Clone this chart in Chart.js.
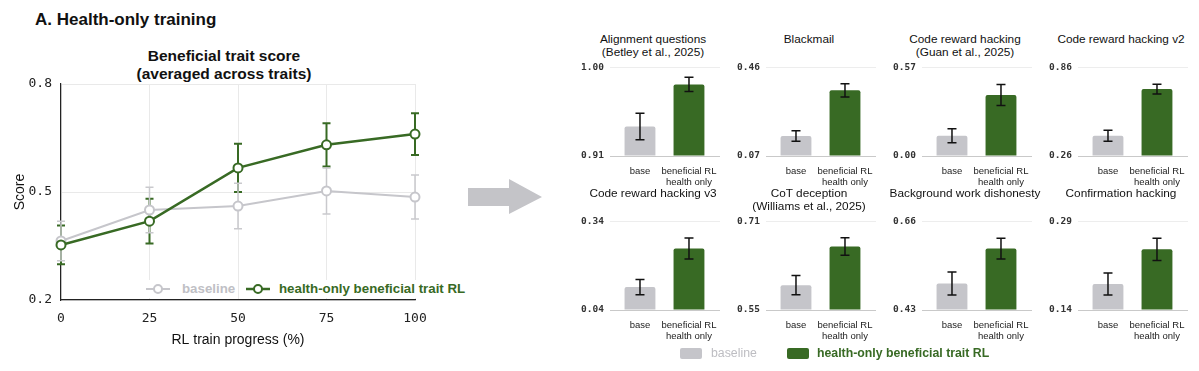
<!DOCTYPE html>
<html lang="en">
<head>
  <meta charset="UTF-8">
  <title>Health-only training</title>
  <script src="https://cdn.jsdelivr.net/npm/chart.js"></script>
  <style>
    body { margin: 0; width: 1199px; height: 371px; background: #fff; position: relative; overflow: hidden;
           font-family: "Liberation Sans", Arial, Helvetica, sans-serif; color: #111; }
    .abs { position: absolute; }
    canvas { position: absolute; }
    #mainTitle { left: 35px; top: 10px; font-size: 17px; font-weight: bold; line-height: 20px; }
    #trendTitle { left: 104px; top: 47px; width: 240px; text-align: center; font-size: 15.5px; font-weight: bold; line-height: 18px; }
    .leg { top: 280px; height: 18px; line-height: 18px; background: #fff; font-size: 13.3px; font-weight: bold; }
    .leg svg { position: absolute; top: 3px; }
    .leg span { position: absolute; top: 0; white-space: nowrap; }
    .ptitle { position: absolute; width: 156px; text-align: center; font-size: 11.8px; line-height: 13px; color: #111; white-space: nowrap; }
    .box { width: 22px; height: 11px; border-radius: 2px; top: 348px; }
    .btxt { top: 345px; line-height: 16px; font-size: 12.3px; white-space: nowrap; }
  </style>
</head>
<body>
  <div id="mainTitle" class="abs">A. Health-only training</div>
  <div id="trendTitle" class="abs">Beneficial trait score<br>(averaged across traits)</div>
  <canvas id="trend" width="450" height="360" style="left:0;top:0"></canvas>

  <div class="abs leg" style="left:145px;width:92px">
    <svg width="24" height="12" style="left:1px"><line x1="0" y1="6" x2="24" y2="6" stroke="#c6c6cb" stroke-width="2"/><circle cx="12" cy="6" r="4" fill="#fff" stroke="#c6c6cb" stroke-width="2"/></svg>
    <span style="left:37px;color:#c0c0c5">baseline</span>
  </div>
  <div class="abs leg" style="left:243px;width:228px">
    <svg width="24" height="12" style="left:3px"><line x1="0" y1="6" x2="24" y2="6" stroke="#386a24" stroke-width="2.5"/><circle cx="12" cy="6" r="4" fill="#fff" stroke="#386a24" stroke-width="2"/></svg>
    <span style="left:36px;color:#386a24">health-only beneficial trait RL</span>
  </div>

  <svg class="abs" style="left:466px;top:176px" width="80" height="42">
    <polygon points="2,12 43,12 43,3 76,21 43,38 43,30 2,30" fill="#c4c4c8"/>
  </svg>

  <div id="panels"></div>

  <div class="abs box" style="left:680px;background:#c5c5ca"></div>
  <div class="abs btxt" style="left:711px;color:#bdbdc2">baseline</div>
  <div class="abs box" style="left:787px;background:#386a24"></div>
  <div class="abs btxt" style="left:817px;color:#386a24;font-weight:bold">health-only beneficial trait RL</div>

  <script>
    // left panel: averaged beneficial trait score over training
    const progress = ['0', '25', '50', '75', '100'];
    const baseTrend = [0.364, 0.450, 0.461, 0.503, 0.486];
    const baseTrendErr = [0.055, 0.063, 0.063, 0.064, 0.061];
    const rlTrend = [0.353, 0.419, 0.567, 0.631, 0.661];
    const rlTrendErr = [0.054, 0.062, 0.067, 0.060, 0.058];
    const trendTicks = [0.2, 0.5, 0.8];

    // right panels: base vs beneficial RL per eval
    const panelTitles = [
      ['Alignment questions', '(Betley et al., 2025)'],
      ['Blackmail'],
      ['Code reward hacking', '(Guan et al., 2025)'],
      ['Code reward hacking v2'],
      ['Code reward hacking v3'],
      ['CoT deception', '(Williams et al., 2025)'],
      ['Background work dishonesty'],
      ['Confirmation hacking']
    ];
    const barLabels = ['base', ['beneficial RL', 'health only']];
    const yLow  = [0.91, 0.07, 0.00, 0.26, 0.04, 0.55, 0.43, 0.14];
    const yHigh = [1.00, 0.46, 0.57, 0.86, 0.34, 0.71, 0.66, 0.29];
    const baseVals = [0.940, 0.158, 0.131, 0.398, 0.118, 0.595, 0.499, 0.184];
    const baseErr  = [0.0135, 0.023, 0.045, 0.037, 0.026, 0.0175, 0.030, 0.0187];
    const rlVals   = [0.983, 0.360, 0.394, 0.715, 0.249, 0.665, 0.590, 0.243];
    const rlErr    = [0.0073, 0.029, 0.068, 0.033, 0.036, 0.0157, 0.027, 0.019];

    const GREEN = '#386a24';
    const GRAY_BAR = '#c5c5ca';
    const GRAY_LINE = '#c6c6cb';
    const MONO = '"DejaVu Sans Mono", monospace';
    Chart.defaults.font.family = '"Liberation Sans", Arial, Helvetica, sans-serif';

    const errorBars = {
      id: 'errorBars',
      draw(chart) {
        const ctx = chart.ctx, y = chart.scales.y;
        chart.data.datasets.forEach((ds, i) => {
          if (!ds.errors) return;
          const meta = chart.getDatasetMeta(i);
          ctx.save();
          ctx.strokeStyle = ds.errColor;
          ctx.lineWidth = ds.errWidth;
          meta.data.forEach((el, j) => {
            const v = meta.controller.getParsed(j).y, e = ds.errors[j];
            const top = y.getPixelForValue(v + e), bot = y.getPixelForValue(v - e);
            const w = ds.capWidth;
            ctx.beginPath();
            ctx.moveTo(el.x, top); ctx.lineTo(el.x, bot);
            ctx.moveTo(el.x - w, top); ctx.lineTo(el.x + w, top);
            ctx.moveTo(el.x - w, bot); ctx.lineTo(el.x + w, bot);
            ctx.stroke();
          });
          ctx.restore();
        });
      },
      beforeDatasetsDraw(chart, args, opts) { if (opts.under) this.draw(chart); },
      afterDatasetsDraw(chart, args, opts) { if (!opts.under) this.draw(chart); }
    };

    new Chart(document.getElementById('trend'), {
      type: 'line',
      data: {
        labels: progress,
        datasets: [
          { label: 'health-only beneficial trait RL', data: rlTrend, errors: rlTrendErr,
            borderColor: GREEN, borderWidth: 2.5, pointRadius: 4.5, pointBorderWidth: 2,
            pointBackgroundColor: '#fff', pointBorderColor: GREEN,
            errColor: GREEN, errWidth: 2, capWidth: 4, order: 0 },
          { label: 'baseline', data: baseTrend, errors: baseTrendErr,
            borderColor: GRAY_LINE, borderWidth: 2, pointRadius: 4.5, pointBorderWidth: 2,
            pointBackgroundColor: '#fff', pointBorderColor: GRAY_LINE,
            errColor: '#c9c9cd', errWidth: 1.5, capWidth: 4, order: 1 }
        ]
      },
      options: {
        responsive: false,
        animation: false,
        layout: { padding: { top: 84, right: 35, bottom: 0, left: 0 } },
        plugins: { legend: { display: false }, tooltip: { enabled: false }, errorBars: { under: true } },
        scales: {
          x: {
            grid: { color: '#e9e9e9', drawTicks: false },
            border: { color: '#222', width: 1.2 },
            ticks: { padding: 11, color: '#222', font: { family: MONO, size: 13 } },
            title: { display: true, text: 'RL train progress (%)', color: '#111', font: { size: 14 },
                     padding: { top: 0, bottom: 11.6 } },
            afterFit: s => { s.height = 60; }
          },
          y: {
            min: 0.2, max: 0.8,
            afterBuildTicks: s => { s.ticks = trendTicks.map(v => ({ value: v })); },
            grid: { color: '#e9e9e9', drawTicks: false },
            border: { color: '#222', width: 1.2 },
            ticks: { padding: 9, color: '#222', font: { family: MONO, size: 13 }, callback: v => v.toFixed(1) },
            title: { display: true, text: 'Score', color: '#111', font: { size: 14 },
                     padding: { top: 11.6, bottom: 0 } },
            afterFit: s => { s.width = 61; }
          }
        }
      },
      plugins: [errorBars]
    });

    const holder = document.getElementById('panels');
    panelTitles.forEach((title, i) => {
      const row = Math.floor(i / 4), col = i % 4;
      const left = 575 + 156 * col;

      const t = document.createElement('div');
      t.className = 'ptitle';
      t.style.left = left + 'px';
      t.style.top = (32.5 + 154 * row) + 'px';
      t.innerHTML = title.join('<br>');
      holder.appendChild(t);

      const c = document.createElement('canvas');
      c.width = 150; c.height = 168;
      c.style.left = left + 'px';
      c.style.top = (26 + 153.5 * row) + 'px';
      holder.appendChild(c);

      new Chart(c, {
        type: 'bar',
        data: {
          datasets: [{
            data: [{ x: 0, y: baseVals[i] }, { x: 1, y: rlVals[i] }],
            errors: [baseErr[i], rlErr[i]],
            backgroundColor: [GRAY_BAR, GREEN],
            base: yLow[i],
            barPercentage: 0.63, categoryPercentage: 1, borderRadius: 2,
            errColor: '#111', errWidth: 1.5, capWidth: 4.5
          }]
        },
        options: {
          responsive: false,
          animation: false,
          layout: { padding: { top: 41.7, right: 5, bottom: 0, left: 0 } },
          plugins: { legend: { display: false }, tooltip: { enabled: false }, errorBars: { under: false } },
          scales: {
            x: {
              type: 'linear', min: -0.612, max: 1.633, offset: false,
              afterBuildTicks: s => { s.ticks = [{ value: 0 }, { value: 1 }]; },
              grid: { display: false, offset: false }, border: { display: false },
              ticks: { padding: 2.4, color: '#222', maxRotation: 0, minRotation: 0, autoSkip: false,
                       font: { size: 9.5, lineHeight: 1.12 }, callback: v => barLabels[v] },
              afterFit: s => { s.height = 38; }
            },
            y: {
              min: yLow[i], max: yHigh[i],
              afterBuildTicks: s => { s.ticks = [{ value: yLow[i] }, { value: yHigh[i] }]; },
              grid: { drawTicks: false, color: ctx => ctx.index === 0 ? '#c9c9c9' : '#ededed' },
              border: { display: false },
              ticks: { padding: 6, color: '#333', font: { family: MONO, size: 9.5, weight: 'bold' }, callback: v => v.toFixed(2) },
              afterFit: s => { s.width = 35; }
            }
          }
        },
        plugins: [errorBars]
      });
    });
  </script>
</body>
</html>
